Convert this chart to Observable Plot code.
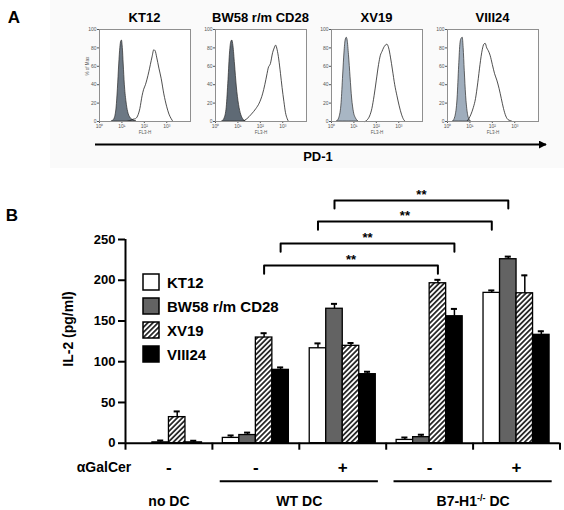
<!DOCTYPE html>
<html><head><meta charset="utf-8">
<script src="https://cdn.jsdelivr.net/npm/d3@7"></script>
<script src="https://cdn.jsdelivr.net/npm/@observablehq/plot@0.6"></script>
<style>
html,body{margin:0;padding:0;background:#fff;}
#fig{position:relative;width:564px;height:510px;font-family:"Liberation Sans",Arial,sans-serif;overflow:hidden;background:#fff;}
.abs{position:absolute;}
.lbl{position:absolute;font-weight:bold;white-space:nowrap;transform:translate(-50%,-50%);line-height:1;}
</style></head><body>
<svg width="0" height="0" style="position:absolute"><defs>
<pattern id="hatch" patternUnits="userSpaceOnUse" width="3.6" height="3.6" patternTransform="rotate(45)">
<rect width="3.6" height="3.6" fill="#fff"/><line x1="1.8" y1="0" x2="1.8" y2="3.6" stroke="#000" stroke-width="1.5"/></pattern></defs></svg>
<div id="fig"></div>
<script>
// ---------------- Panel A data (log10 fluorescence, % of max) ----------------
const samples = ["KT12", "BW58 r/m CD28", "XV19", "VIII24"];
const isoColors = ["#6c7884", "#5f6a75", "#a8b6c4", "#9fadbc"];
const xTickLabels = ["10⁰", "10¹", "10²", "10³"];
const yTickValues = [0, 20, 40, 60, 80, 100];

const kt12IsoLog = [0.55,0.65,0.75,0.82,0.88,0.93,0.97,1.0,1.04,1.08,1.13,1.2,1.28,1.38,1.5,1.65];
const kt12IsoPct = [0,2,12,35,62,80,87,88,80,62,40,22,10,4,1.5,0];
const kt12PdLog  = [1.2,1.35,1.5,1.6,1.7,1.8,1.9,1.97,2.05,2.12,2.2,2.27,2.35,2.42,2.48,2.55,2.65,2.75,2.87,3.0,3.1,3.2,3.28];
const kt12PdPct  = [0,1,2.5,3,6,14,28,35,40,46,54,62,71,78,77,70,58,47,30,16,8,3,0];

const bw58IsoLog = [0.3,0.4,0.5,0.58,0.65,0.7,0.75,0.8,0.87,0.95,1.05,1.15,1.25,1.35];
const bw58IsoPct = [0,3,15,45,75,86,88,82,62,38,18,7,2,0];
const bw58PdLog  = [1.2,1.4,1.6,1.8,1.95,2.1,2.2,2.3,2.35,2.45,2.55,2.62,2.68,2.75,2.82,2.9,2.97,3.05,3.12,3.2,3.26];
const bw58PdPct  = [0,3,8,14,20,30,40,52,58,63,75,80,83,78,68,52,37,22,10,3,0];

const xv19IsoLog = [0.25,0.35,0.45,0.52,0.58,0.63,0.68,0.72,0.78,0.85,0.92,1.0,1.1,1.2];
const xv19IsoPct = [0,4,20,50,75,88,91,88,72,48,25,10,3,0];
const xv19PdLog  = [1.5,1.6,1.7,1.8,1.9,2.0,2.1,2.18,2.25,2.32,2.4,2.47,2.55,2.63,2.72,2.82,2.92,3.02,3.12,3.22,3.3];
const xv19PdPct  = [0,2,6,14,28,45,62,72,76,80,83,84,80,70,56,40,28,17,8,2,0];

const viii24IsoLog = [0.25,0.35,0.45,0.52,0.58,0.63,0.68,0.72,0.77,0.83,0.9,0.98,1.05];
const viii24IsoPct = [0,5,25,60,85,90,91,80,55,28,10,2,0];
const viii24PdLog  = [0.85,0.95,1.05,1.15,1.25,1.35,1.45,1.55,1.62,1.68,1.75,1.82,1.9,2.0,2.1,2.2,2.3,2.4,2.5,2.6,2.7,2.8,2.9];
const viii24PdPct  = [0,3,8,15,25,42,62,78,84,85,80,77,72,62,52,45,36,25,14,6,2,1,0];

// ---------------- Panel B data ----------------
const seriesNames = ["KT12", "BW58 r/m CD28", "XV19", "VIII24"];
const galCerSign = ["-", "-", "+", "-", "+"];
const dcNames = ["no DC", "WT DC", "B7-H1-/- DC"];
const dcFirstGroup = [0, 1, 3];
const dcLastGroup = [1, 3, 5];
const yTicks = [0, 50, 100, 150, 200, 250];

const kt12Mean   = [0, 6.5, 116.5, 4, 184.5];
const kt12Err    = [0, 3, 6, 3, 3];
const bw58Mean   = [1, 10, 165, 7.4, 225.8];
const bw58Err    = [2.3, 3, 6, 3, 3.2];
const xv19Mean   = [32, 129.7, 119.5, 196.3, 184];
const xv19Err    = [7, 5.3, 3.5, 4.2, 22];
const viii24Mean = [1, 90, 84.7, 155.8, 133];
const viii24Err  = [2, 3, 3, 9, 4.4];

const sigFromGroup  = [1, 1, 2, 2];
const sigToGroup    = [3, 3, 4, 4];
const sigSeries     = [2, 3, 0, 1];
const sigLevel      = [218, 245, 272, 298];
const sigLabel      = ["**", "**", "**", "**"];

// ---------------- build ----------------
const fig = document.getElementById("fig");
const FONT = "'Liberation Sans', Arial, sans-serif";
function label(text, x, y, size, extra) {
  const d = document.createElement("div");
  d.className = "lbl"; d.style.left = x + "px"; d.style.top = y + "px";
  d.style.fontSize = size + "px"; d.innerHTML = text;
  if (extra) Object.assign(d.style, extra);
  fig.appendChild(d); return d;
}

// Panel A backdrop
const bg = document.createElement("div");
bg.className = "abs"; Object.assign(bg.style, {left: "50px", top: "0px", width: "514px", height: "168px", background: "#fafafa"});
fig.appendChild(bg);

label("A", 14, 17, 17);
const isoLog = [kt12IsoLog, bw58IsoLog, xv19IsoLog, viii24IsoLog];
const isoPct = [kt12IsoPct, bw58IsoPct, xv19IsoPct, viii24IsoPct];
const pdLog = [kt12PdLog, bw58PdLog, xv19PdLog, viii24PdLog];
const pdPct = [kt12PdPct, bw58PdPct, xv19PdPct, viii24PdPct];
const boxLeft = [99, 215, 331, 447];

samples.forEach((name, k) => {
  const iso = isoLog[k].map((v, i) => ({lx: v, pct: isoPct[k][i]}));
  const pd = pdLog[k].map((v, i) => ({lx: v, pct: pdPct[k][i]}));
  const marks = [
    Plot.frame({fill: "#fff", stroke: "none"}),
    Plot.areaY(iso, {x: "lx", y: "pct", fill: isoColors[k], stroke: "#2a2a2a", strokeWidth: 0.7, curve: "monotone-x"}),
    Plot.lineY(pd, {x: "lx", y: "pct", stroke: "#222", strokeWidth: 0.8, curve: "monotone-x"}),
    Plot.frame({stroke: "#8f8f8f", strokeWidth: 1}),
    Plot.text(["FL3-H"], {text: d => d, frameAnchor: "bottom", dy: 12, fontSize: 4.5, fill: "#555"})
  ];
  if (k === 0) marks.push(Plot.text(["% of Max"], {text: d => d, frameAnchor: "left", dx: -12, rotate: -90, fontSize: 4.5, fill: "#555"}));
  const p = Plot.plot({
    width: 113, height: 112, marginLeft: 16, marginRight: 6, marginTop: 4, marginBottom: 16,
    x: {domain: [0, 4.06], ticks: [0, 1, 2, 3], tickFormat: d => xTickLabels[d], tickSize: 2, tickPadding: 1, label: null},
    y: {domain: [0, 100], ticks: yTickValues, tickSize: 2, tickPadding: 1, label: null},
    style: {fontFamily: FONT, fontSize: "5px", color: "#555", background: "transparent", overflow: "visible"},
    marks
  });
  p.style.position = "absolute"; p.style.left = (boxLeft[k] - 16) + "px"; p.style.top = "25px";
  fig.appendChild(p);
  label(name, boxLeft[k] + 45.5, 17, 13);
});

// PD-1 arrow
const arr = d3.create("svg").attr("width", 564).attr("height", 170).style("position", "absolute").style("left", 0).style("top", 0);
arr.append("defs").append("marker").attr("id", "ah").attr("viewBox", "0 0 10 10").attr("refX", 9).attr("refY", 5)
  .attr("markerWidth", 4).attr("markerHeight", 4).attr("orient", "auto")
  .append("path").attr("d", "M0,0L10,5L0,10z").attr("fill", "#000");
arr.append("line").attr("x1", 95).attr("x2", 546).attr("y1", 144.5).attr("y2", 144.5).attr("stroke", "#000").attr("stroke-width", 2).attr("marker-end", "url(#ah)");
fig.appendChild(arr.node());
label("PD-1", 318, 156, 13);

// ---------------- Panel B ----------------
label("B", 12, 215, 17);
const pad = 0.12, bw = 0.19, capHalf = 0.035;
const means = [kt12Mean, bw58Mean, xv19Mean, viii24Mean];
const errs = [kt12Err, bw58Err, xv19Err, viii24Err];
const rows = [];
seriesNames.forEach((s, j) => means[j].forEach((v, i) => {
  const x1 = i + pad + j * bw;
  rows.push({series: s, group: i, x1, x2: x1 + bw, xc: x1 + bw / 2, value: v, err: errs[j][i], top: v + errs[j][i]});
}));
const errRows = rows.filter(d => d.err > 0);
const center = (g, j) => g + pad + (j + 0.5) * bw;
const sig = sigLevel.map((lvl, k) => ({a: center(sigFromGroup[k], sigSeries[k]), b: center(sigToGroup[k], sigSeries[k]), lvl, text: sigLabel[k]}));
const bracketPts = sig.flatMap((s, k) => [
  {k, x: s.a, y: s.lvl - 10}, {k, x: s.a, y: s.lvl}, {k, x: s.b, y: s.lvl}, {k, x: s.b, y: s.lvl - 10}
]);
const conds = galCerSign.map((t, i) => ({i, t}));
const dcs = dcNames.map((n, k) => ({n, a: dcFirstGroup[k], b: dcLastGroup[k]}));

const chart = Plot.plot({
  width: 564, height: 340, marginLeft: 125, marginRight: 4.5, marginTop: 69, marginBottom: 67.3,
  x: {domain: [0, 5], axis: null},
  y: {domain: [0, 250], axis: null},
  color: {domain: seriesNames, range: ["#ffffff", "#636363", "url(#hatch)", "#000000"]},
  style: {fontFamily: FONT, fontSize: "13px", color: "#000", background: "transparent", overflow: "visible"},
  marks: [
    Plot.rect(rows, {x1: "x1", x2: "x2", y1: 0, y2: "value", fill: "series", stroke: "#000", strokeWidth: 1.3}),
    Plot.ruleX(errRows, {x: "xc", y1: "value", y2: "top", stroke: "#000", strokeWidth: 1.5}),
    Plot.ruleY(errRows, {y: "top", x1: d => d.xc - capHalf, x2: d => d.xc + capHalf, stroke: "#000", strokeWidth: 2}),
    Plot.ruleY([0], {x1: 0, x2: 5, stroke: "#000", strokeWidth: 2}),
    Plot.ruleX([0], {y1: 0, y2: 250, stroke: "#000", strokeWidth: 2}),
    Plot.axisX({ticks: d3.range(6), tickSize: 7, tickFormat: () => "", strokeWidth: 2, label: null}),
    Plot.axisY({ticks: yTicks, tickSize: 7, tickPadding: 3, strokeWidth: 2, fontSize: 13, fontWeight: "bold", label: null}),
    Plot.line(bracketPts, {x: "x", y: "y", z: "k", stroke: "#000", strokeWidth: 2}),
    Plot.text(sig, {x: d => (d.a + d.b) / 2, y: "lvl", text: "text", dy: -6, fontSize: 13, fontWeight: "bold"}),
    Plot.text(conds, {x: d => d.i + 0.5, y: 0, text: "t", dy: 24, fontSize: 17, fontWeight: "bold"}),
    Plot.ruleY(dcs.filter(d => d.b - d.a > 1), {y: 0, x1: d => d.a + 0.09, x2: d => d.b - 0.09, dy: 38, stroke: "#000", strokeWidth: 2}),
    Plot.text(dcs, {x: d => (d.a + d.b) / 2, y: 0, text: "n", dy: 58, fontSize: 14, fontWeight: "bold"})
  ]
});
chart.style.position = "absolute"; chart.style.left = "0px"; chart.style.top = "170px";
d3.select(chart).selectAll("text").filter(function() { return this.textContent === "B7-H1-/- DC"; }).each(function() {
  const t = d3.select(this); t.text("");
  t.append("tspan").text("B7-H1");
  t.append("tspan").attr("dy", -5).attr("font-size", 9).text("-/-");
  t.append("tspan").attr("dy", 5).text(" DC");
});
fig.appendChild(chart);

// y-axis title and αGalCer row label
label("IL-2 (pg/ml)", 68, 329, 14, {transform: "translate(-50%,-50%) rotate(-90deg)"});
label("αGalCer", 104, 467, 14);

// legend
const legendY = [281.7, 305.9, 330.1, 354.3];
const legendFill = ["#ffffff", "#636363", "url(#hatch)", "#000000"];
seriesNames.forEach((s, j) => {
  const sw = d3.create("svg").attr("width", 18).attr("height", 18)
    .style("position", "absolute").style("left", "142px").style("top", (legendY[j] - 9) + "px");
  sw.append("rect").attr("x", 1).attr("y", 1).attr("width", 16).attr("height", 16)
    .attr("fill", legendFill[j]).attr("stroke", "#000").attr("stroke-width", 1.5);
  fig.appendChild(sw.node());
  label(s, 167, legendY[j], 15, {transform: "translate(0,-50%)"});
});
</script>
</body></html>
